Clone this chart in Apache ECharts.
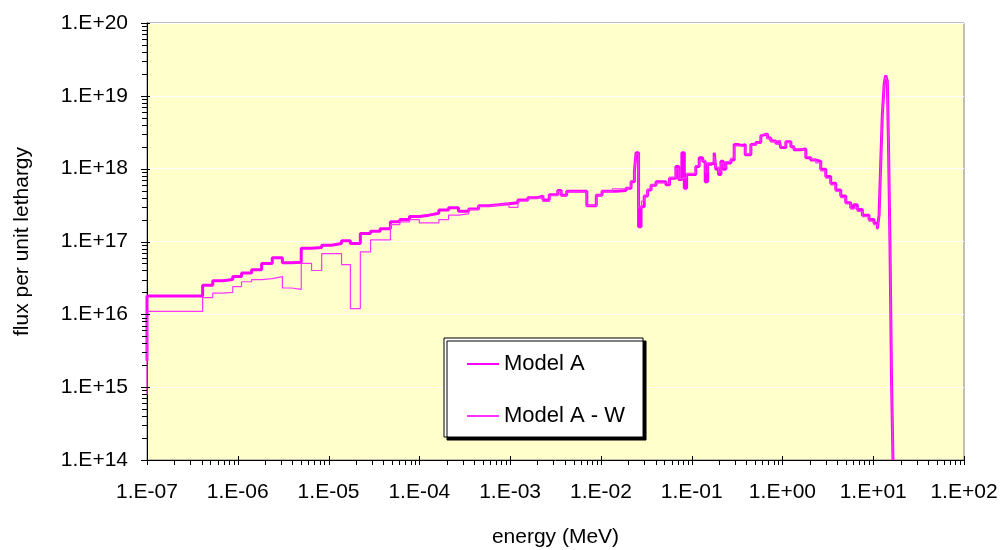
<!DOCTYPE html>
<html><head><meta charset="utf-8">
<script src="https://cdn.jsdelivr.net/npm/echarts@6/dist/echarts.min.js"></script>
<style>html,body{margin:0;padding:0;background:#fff}#c{width:1000px;height:550px}</style>
</head><body><div id="c"></div>
<script>
// ---------- data ----------
const xTickLabels = ['1.E-07','1.E-06','1.E-05','1.E-04','1.E-03','1.E-02','1.E-01','1.E+00','1.E+01','1.E+02'];
const yTickLabels = ['1.E+14','1.E+15','1.E+16','1.E+17','1.E+18','1.E+19','1.E+20'];
const seriesNames = ['Model A', 'Model A - W'];

// [energy (MeV) at start of bin, flux per unit lethargy]
const modelA = [
 [1e-7,2.3e15],[1e-7,1.78e16],[4.1e-7,2.5e16],[5.3e-7,2.9e16],[6.8e-7,3.0e16],[8.8e-7,3.3e16],
 [1.1e-6,3.7e16],[1.42e-6,4.1e16],[1.83e-6,5.0e16],[2.4e-6,6.0e16],[3.1e-6,5.1e16],[3.9e-6,5.2e16],
 [5.0e-6,8.1e16],[6.5e-6,8.3e16],[8.4e-6,8.9e16],[1.08e-5,9.4e16],[1.39e-5,1.02e17],[1.74e-5,9.4e16],
 [2.24e-5,1.29e17],[2.9e-5,1.38e17],[3.7e-5,1.5e17],[4.8e-5,1.86e17],[6.1e-5,2.0e17],[7.8e-5,2.2e17],
 [1.0e-4,2.3e17],[1.28e-4,2.45e17],[1.64e-4,2.7e17],[2.1e-4,2.9e17],[2.7e-4,2.6e17],[3.5e-4,2.8e17],
 [4.5e-4,3.1e17],[5.8e-4,3.2e17],[7.5e-4,3.4e17],[1.22e-3,3.7e17],[1.57e-3,4.0e17],[2.0e-3,4.2e17],
 [2.3e-3,3.7e17],[2.7e-3,4.4e17],[3.35e-3,5.0e17],[3.65e-3,4.3e17],[4.2e-3,4.9e17],[7.0e-3,3.1e17],
 [8.9e-3,4.3e17],[1.03e-2,4.9e17],[1.47e-2,5.0e17],[1.89e-2,5.4e17],[2.15e-2,6.6e17],[2.34e-2,9.1e17],
 [2.44e-2,1.66e18],[2.6e-2,1.6e17],[2.77e-2,3.0e17],[3.0e-2,4.2e17],[3.27e-2,5.1e17],[3.57e-2,5.9e17],
 [4.05e-2,6.6e17],[5.2e-2,6.0e17],[5.7e-2,7.4e17],[6.7e-2,1.07e18],[7.2e-2,7.1e17],[7.8e-2,1.66e18],
 [8.3e-2,5.4e17],[8.8e-2,8.3e17],[0.111,1.07e18],[0.121,1.41e18],[0.132,1.26e18],[0.141,6.6e17],
 [0.150,1.15e18],[0.163,1.2e18],[0.177,1.66e18],[0.185,9.8e17],[0.198,8.3e17],[0.210,1.26e18],
 [0.223,9.8e17],[0.238,1.2e18],[0.270,1.32e18],[0.294,2.14e18],[0.328,2.09e18],[0.357,2.14e18],
 [0.389,1.55e18],[0.449,2.14e18],[0.509,2.29e18],[0.578,2.82e18],[0.603,3.0e18],[0.684,2.63e18],
 [0.745,2.4e18],[0.845,2.24e18],[0.918,2.45e18],[0.959,1.95e18],[1.09,2.35e18],[1.24,2.0e18],
 [1.34,1.82e18],[1.59,1.86e18],[1.81,1.41e18],[2.05,1.32e18],[2.33,1.26e18],[2.64,9.8e17],
 [3.0,7.8e17],[3.4,6.3e17],[3.87,5.1e17],[4.39,4.2e17],[4.98,3.4e17],[5.65,2.9e17],[6.1,3.2e17],
 [6.68,2.75e17],[7.59,2.3e17],[8.99,2.0e17],[10.2,1.78e17],[11.1,1.5e17],[11.6,2.3e17],[12.1,1.2e18],
 [12.6,5.5e18],[13.2,1.45e19],[13.7,1.9e19],[14.3,1.6e19],[14.7,2.5e18],[15.3,8.9e16],[15.9,1.3e15],
 [16.5,1e14]
];
const modelAW = [
 [1e-7,7.8e14],[1e-7,1.1e16],[4.1e-7,1.7e16],[5.3e-7,1.95e16],[6.8e-7,2.0e16],[8.8e-7,2.4e16],
 [1.1e-6,2.8e16],[1.42e-6,3.0e16],[1.83e-6,3.1e16],[2.4e-6,3.3e16],[3.1e-6,2.3e16],[3.9e-6,2.2e16],
 [5.0e-6,5.0e16],[6.5e-6,4.0e16],[8.4e-6,6.8e16],[1.39e-5,4.8e16],[1.74e-5,1.2e16],[2.24e-5,7.2e16],
 [2.9e-5,1.05e17],[4.8e-5,1.7e17],[6.1e-5,1.86e17],[7.8e-5,2.0e17],[1.0e-4,1.8e17],[1.64e-4,2.0e17],
 [2.1e-4,2.3e17],[2.7e-4,2.4e17],[3.5e-4,2.75e17],[4.5e-4,3.05e17],[5.8e-4,3.15e17],[7.5e-4,3.35e17],
 [9.7e-4,2.95e17],[1.22e-3,3.6e17],[1.57e-3,3.9e17],[2.0e-3,4.1e17],[2.3e-3,3.55e17],[2.7e-3,4.3e17],
 [3.35e-3,4.9e17],[3.65e-3,4.2e17],[4.2e-3,4.8e17],[7.0e-3,3.1e17],[8.9e-3,4.3e17],[1.03e-2,4.9e17],
 [1.34e-2,5.3e17],[1.89e-2,5.6e17],[2.15e-2,6.8e17],[2.34e-2,9.5e17],[2.44e-2,1.6e18],[2.6e-2,2.9e17],
 [2.8e-2,3.6e17],[3.0e-2,4.3e17],[3.27e-2,5.2e17],[3.57e-2,6.0e17],[4.05e-2,6.4e17],[5.2e-2,6.2e17],
 [5.7e-2,7.6e17],[6.7e-2,1.0e18],[7.2e-2,7.3e17],[7.8e-2,7.6e17],[8.8e-2,8.6e17],[0.111,1.1e18],
 [0.121,1.3e18],[0.132,1.3e18],[0.141,9.0e17],[0.150,1.2e18],[0.163,1.25e18],[0.177,1.5e18],
 [0.185,1.05e18],[0.198,9.0e17],[0.210,1.2e18],[0.223,1.05e18],[0.238,1.25e18],[0.270,1.4e18],
 [0.294,2.05e18],[0.328,2.05e18],[0.357,2.0e18],[0.389,1.6e18],[0.449,2.1e18],[0.509,2.25e18],
 [0.578,2.75e18],[0.603,2.95e18],[0.684,2.6e18],[0.745,2.35e18],[0.845,2.2e18],[0.918,2.4e18],
 [0.959,2.0e18],[1.09,2.3e18],[1.24,2.05e18],[1.34,1.85e18],[1.59,1.8e18],[1.81,1.45e18],
 [2.05,1.35e18],[2.33,1.2e18],[2.64,9.3e17],[3.0,7.4e17],[3.4,6.0e17],[3.87,4.9e17],[4.39,4.0e17],
 [4.98,3.3e17],[5.65,2.8e17],[6.1,2.95e17],[6.68,2.6e17],[7.59,2.2e17],[8.99,1.9e17],[10.2,1.7e17],
 [11.1,1.45e17],[11.6,2.2e17],[12.1,1.15e18],[12.6,5.3e18],[13.2,1.42e19],[13.7,1.85e19],[14.3,1.6e19],
 [14.7,2.5e18],[15.3,8.9e16],[15.9,1.3e15],[16.5,1e14]
];

// ---------- axis extents / ticks ----------
const xMinExp = -7, xMaxExp = 2, yMinExp = 14, yMaxExp = 20;
const X_MIN = Math.pow(10, xMinExp), X_MAX = Math.pow(10, xMaxExp);
const Y_MIN = Math.pow(10, yMinExp), Y_MAX = Math.pow(10, yMaxExp);
const xTickData = [], yTickData = [];
for (let e = xMinExp; e <= xMaxExp; e++) {
  xTickData.push([Math.pow(10, e), Y_MIN, 1]);
  if (e < xMaxExp) for (let k = 2; k <= 9; k++) xTickData.push([k * Math.pow(10, e), Y_MIN, 0]);
}
for (let e = yMinExp; e <= yMaxExp; e++) {
  yTickData.push([X_MIN, Math.pow(10, e), 1]);
  if (e < yMaxExp) for (let k = 2; k <= 9; k++) yTickData.push([X_MIN, k * Math.pow(10, e), 0]);
}

const FONT = '"Liberation Sans", Arial, sans-serif';
const expOf = v => Math.round(Math.log10(v));

const chart = echarts.init(document.getElementById('c'), null, {renderer: 'canvas'});
chart.setOption({
  animation: false,
  backgroundColor: '#ffffff',
  textStyle: {fontFamily: FONT},
  grid: {
    left: 147, right: 36, top: 23, bottom: 90,
    containLabel: false, outerBoundsMode: 'none',
    show: true, backgroundColor: '#FFFFCC', borderColor: '#808080', borderWidth: 1
  },
  legend: {
    data: seriesNames,
    orient: 'vertical',
    left: 444, top: 338,
    padding: [15, 18, 10, 22],
    itemGap: 30,
    itemWidth: 32, itemHeight: 14,
    backgroundColor: '#ffffff',
    borderColor: '#000000', borderWidth: 1,
    shadowColor: 'rgba(0,0,0,1)', shadowBlur: 0, shadowOffsetX: 3, shadowOffsetY: 3,
    itemStyle: {color: 'rgba(0,0,0,0)', borderWidth: 0, opacity: 0},
    textStyle: {fontSize: 22, color: '#000', fontFamily: FONT, padding: [0,0,0,0]}
  },
  xAxis: {
    type: 'log', logBase: 10, min: X_MIN, max: X_MAX, splitNumber: 9,
    name: 'energy (MeV)', nameLocation: 'middle', nameGap: 67,
    nameTextStyle: {fontSize: 21, color: '#000', fontFamily: FONT},
    axisLine: {show: true, lineStyle: {color: '#000', width: 1}},
    axisTick: {show: false},
    minorTick: {show: false},
    splitLine: {show: false},
    axisLabel: {
      fontSize: 21, color: '#000', fontFamily: FONT, margin: 22,
      formatter: v => xTickLabels[expOf(v) - xMinExp]
    }
  },
  yAxis: {
    type: 'log', logBase: 10, min: Y_MIN, max: Y_MAX, splitNumber: 6,
    name: 'flux per unit lethargy', nameLocation: 'middle', nameRotate: 90, nameGap: 114,
    nameTextStyle: {fontSize: 21, color: '#000', fontFamily: FONT},
    axisLine: {show: true, lineStyle: {color: '#000', width: 1}},
    axisTick: {show: false},
    minorTick: {show: false},
    splitLine: {show: true, lineStyle: {color: '#ffffff', width: 1}},
    axisLabel: {
      fontSize: 21, color: '#000', fontFamily: FONT, margin: 19,
      formatter: v => yTickLabels[expOf(v) - yMinExp]
    }
  },
  series: [
    {
      name: seriesNames[0], type: 'line', data: modelA, step: 'end',
      symbol: 'none', showSymbol: false, color: '#FF00FF',
      lineStyle: {color: '#FF00FF', width: 3}, z: 3
    },
    {
      name: seriesNames[1], type: 'line', data: modelAW, step: 'end',
      symbol: 'none', showSymbol: false, color: '#FF00FF',
      lineStyle: {color: '#FF33FF', width: 1.2}, z: 4
    },
    {
      type: 'custom', silent: true, z: 10, clip: false,
      data: xTickData, encode: {x: 0, y: 1},
      renderItem: function (params, api) {
        const p = api.coord([api.value(0), api.value(1)]);
        const major = api.value(2) === 1;
        const x = Math.round(p[0]) + 0.5, y = Math.round(p[1]);
        return {type: 'line', shape: {x1: x, y1: major ? y - 4 : y, x2: x, y2: y + 5},
                style: {stroke: '#000', lineWidth: 1}};
      }
    },
    {
      type: 'custom', silent: true, z: 10, clip: false,
      data: yTickData, encode: {x: 0, y: 1},
      renderItem: function (params, api) {
        const p = api.coord([api.value(0), api.value(1)]);
        const major = api.value(2) === 1;
        const x = Math.round(p[0]), y = Math.round(p[1]) + 0.5;
        return {type: 'line', shape: {x1: x - (major ? 6 : 5), y1: y, x2: major ? x + 3 : x, y2: y},
                style: {stroke: '#000', lineWidth: 1}};
      }
    }
  ]
});
</script>
</body></html>
